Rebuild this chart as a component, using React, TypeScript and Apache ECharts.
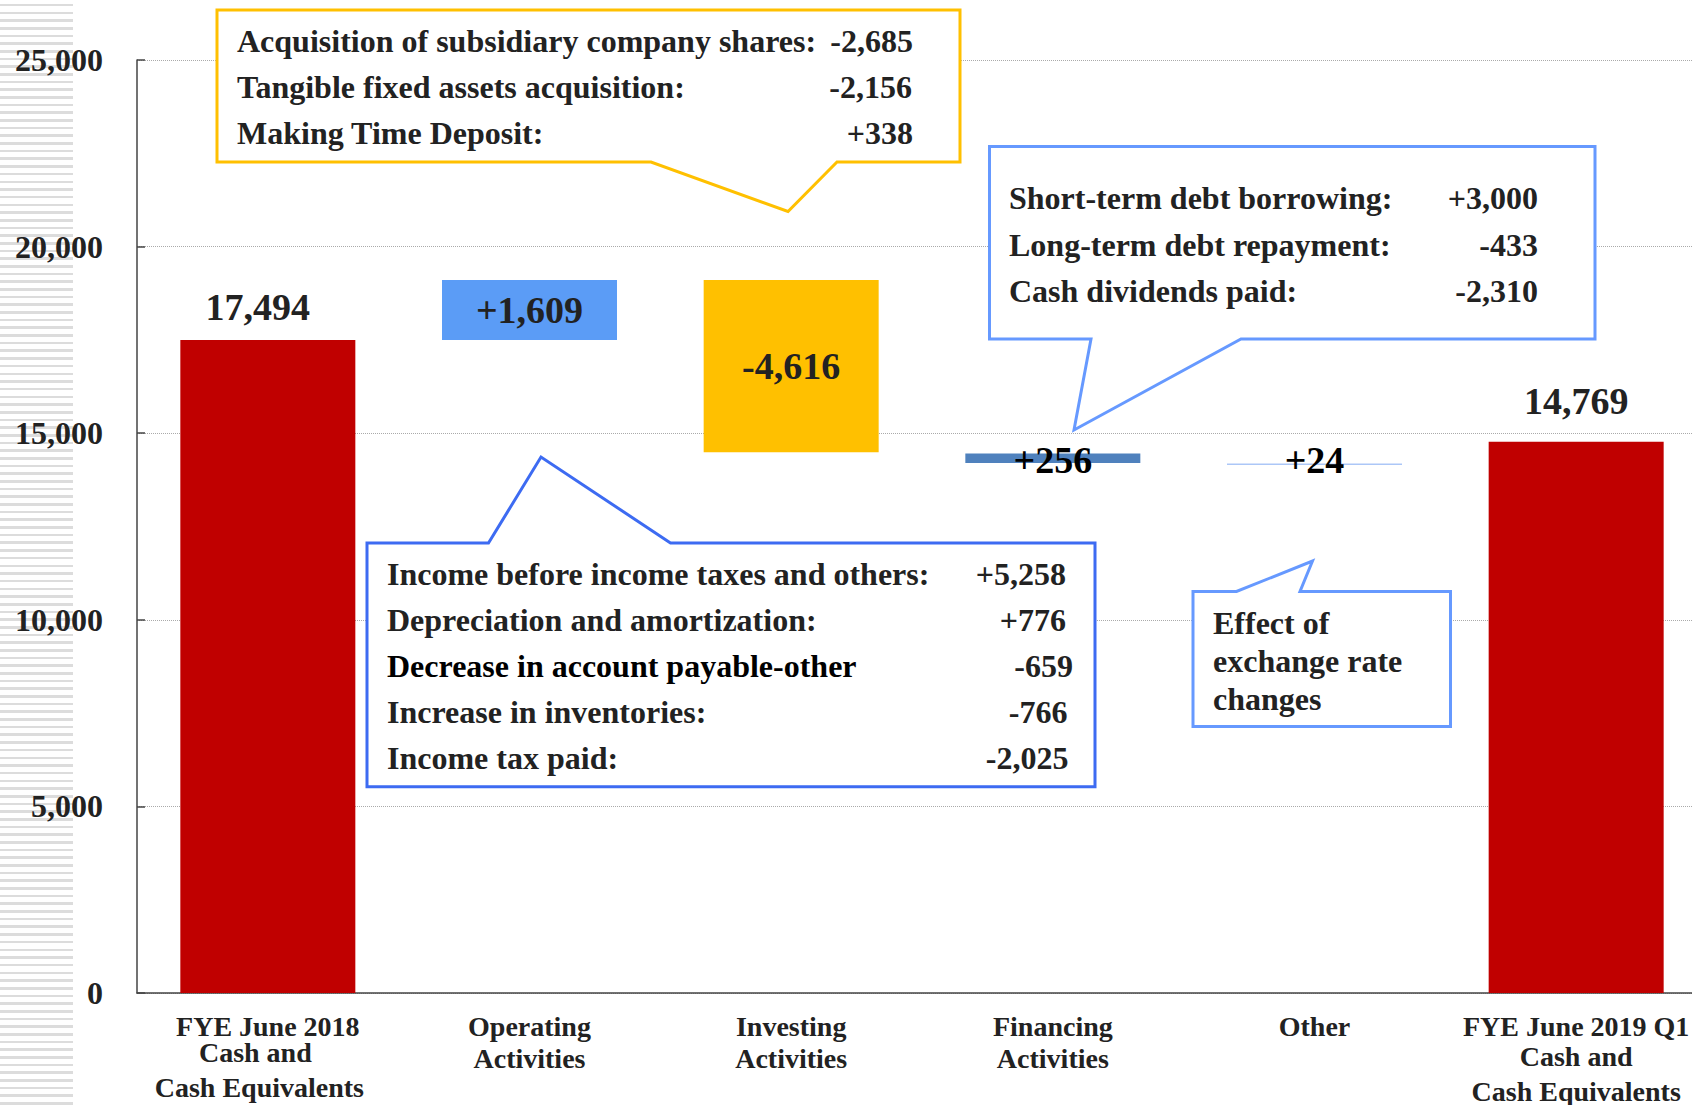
import React, { useEffect, useRef } from "react";
import * as echarts from "echarts";

// ---- Data ----
const categoryLines: string[][] = [
  ["FYE June 2018", "Cash and", "Cash Equivalents"],
  ["Operating", "Activities"],
  ["Investing", "Activities"],
  ["Financing", "Activities"],
  ["Other"],
  ["FYE June 2019 Q1", "Cash and", "Cash Equivalents"],
];
const categories = categoryLines.map((l) => l.join(" "));
// signed change / totals shown on each bar
const deltaValues = [17494, 1609, -4616, 256, 24, 14769];
// invisible base of each floating bar (as drawn in the picture)
const baseValues = [0, 17494, 14487, 14200, 14160, 0];
const barColors = ["#C00000", "#5B9CF6", "#FFC000", "#4F81BD", "#5B8FF0", "#C00000"];
const yTicks = { min: 0, max: 25000, interval: 5000 };

const investingItems = ["Acquisition of subsidiary company shares:", "Tangible fixed assets acquisition:", "Making Time Deposit:"];
const investingValues = ["-2,685", "-2,156", "+338"];
const financingItems = ["Short-term debt borrowing:", "Long-term debt repayment:", "Cash dividends paid:"];
const financingValues = ["+3,000", "-433", "-2,310"];
const operatingItems = [
  "Income before income taxes and others:",
  "Depreciation and amortization:",
  "Decrease in account payable-other",
  "Increase in inventories:",
  "Income tax paid:",
];
const operatingValues = ["+5,258", "+776", "-659", "-766", "-2,025"];
const otherNote = ["Effect of", "exchange rate", "changes"];

const FONT = "'Liberation Serif', 'Times New Roman', serif";

function fmt(n: number) {
  return Math.abs(n).toLocaleString("en-US");
}

function txt(text: string, x: number, y: number, align: string, color = "#222", size = 32) {
  return {
    type: "text",
    x,
    y,
    z: 110,
    silent: true,
    style: {
      text,
      fontSize: size,
      fontWeight: "bold",
      fontFamily: FONT,
      fill: color,
      align,
      textAlign: align,
      verticalAlign: "middle",
      textVerticalAlign: "middle",
    },
  };
}

function callout(points: number[][], stroke: string) {
  return {
    type: "polygon",
    z: 100,
    silent: true,
    shape: { points },
    style: { fill: "#ffffff", stroke, lineWidth: 3, lineJoin: "miter" },
  };
}

export default function App() {
  const ref = useRef<HTMLDivElement>(null);

  useEffect(() => {
    if (!ref.current) return;
    const chart = echarts.init(ref.current, undefined, { renderer: "svg" });

    const labelCfg = [
      { position: "top", distance: 14, offset: [-10, 0] },
      { position: "inside" },
      { position: "inside" },
      { position: "inside", offset: [0, 2], color: "#000" },
      { position: "inside", offset: [0, -4], color: "#000" },
      { position: "top", distance: 22 },
    ];

    const richBase = { fontSize: 28, fontWeight: "bold", fontFamily: FONT, color: "#222" };
    const rich: any = {
      d: { ...richBase, lineHeight: 32 },
      a0: { ...richBase, lineHeight: 32 },
      b0: { ...richBase, lineHeight: 20, padding: [0, 25, 0, 0] },
      c0: { ...richBase, lineHeight: 50, padding: [0, 17, 0, 0] },
      a5: { ...richBase, lineHeight: 32 },
      b5: { ...richBase, lineHeight: 28 },
      c5: { ...richBase, lineHeight: 42 },
    };

    const graphics: any[] = [];
    // investing callout (yellow)
    graphics.push(callout([[217, 10], [960, 10], [960, 162], [837, 162], [788, 211.5], [651, 162], [217, 162]], "#FFC000"));
    const invY = [41, 87, 133];
    const invR = [913, 912, 913];
    investingItems.forEach((t, i) => graphics.push(txt(t, 237, invY[i], "left")));
    investingValues.forEach((t, i) => graphics.push(txt(t, invR[i], invY[i], "right")));
    // financing callout
    graphics.push(callout([[989.5, 146.5], [1595, 146.5], [1595, 339], [1241, 339], [1074, 430], [1091, 339], [989.5, 339]], "#6699FF"));
    const finY = [198, 245, 291];
    financingItems.forEach((t, i) => graphics.push(txt(t, 1009, finY[i], "left")));
    financingValues.forEach((t, i) => graphics.push(txt(t, 1538, finY[i], "right")));
    // operating callout
    graphics.push(callout([[367, 543], [488.5, 543], [541, 457], [670.5, 543], [1095, 543], [1095, 786.7], [367, 786.7]], "#3D6BF2"));
    const opY = [573.5, 620, 666, 712, 758];
    const opR = [1066, 1066, 1073, 1067.5, 1068.5];
    operatingItems.forEach((t, i) => graphics.push(txt(t, 387, opY[i], "left", i === 2 ? "#000" : "#222")));
    operatingValues.forEach((t, i) => graphics.push(txt(t, opR[i], opY[i], "right")));
    // exchange-rate callout
    graphics.push(callout([[1193, 591.5], [1236.5, 591.5], [1312.5, 561], [1300, 591.5], [1450.5, 591.5], [1450.5, 726.5], [1193, 726.5]], "#6699FF"));
    const exY = [622.5, 660.5, 698.5];
    otherNote.forEach((t, i) => graphics.push(txt(t, 1213, exY[i], "left")));

    chart.setOption({
      animation: false,
      grid: { left: 137, top: 60, width: 1570, height: 935 },
      xAxis: {
        type: "category",
        data: categories,
        axisLine: { show: true, lineStyle: { color: "#444", width: 1.5 } },
        axisTick: { show: false },
        axisLabel: {
          interval: 0,
          margin: 17,
          rich,
          formatter: (_v: string, idx: number) => {
            const lines = categoryLines[idx];
            if (idx === 0) return `{a0|${lines[0]}}\n{b0|${lines[1]}}\n{c0|${lines[2]}}`;
            if (idx === 5) return `{a5|${lines[0]}}\n{b5|${lines[1]}}\n{c5|${lines[2]}}`;
            return lines.map((l) => `{d|${l}}`).join("\n");
          },
        },
      },
      yAxis: {
        type: "value",
        min: yTicks.min,
        max: yTicks.max,
        interval: yTicks.interval,
        axisLine: { show: true, lineStyle: { color: "#444", width: 1.5 } },
        axisTick: { show: true, inside: true, length: 8, lineStyle: { color: "#444", width: 1.5 } },
        splitLine: { show: true, lineStyle: { color: "#aaa", type: "dotted", width: 1 } },
        axisLabel: {
          margin: 34,
          fontSize: 32,
          fontWeight: "bold",
          fontFamily: FONT,
          color: "#222",
          formatter: (v: number) => v.toLocaleString("en-US"),
        },
      },
      series: [
        {
          type: "bar",
          stack: "w",
          barWidth: 175,
          silent: true,
          itemStyle: { color: "transparent" },
          data: baseValues,
        },
        {
          type: "bar",
          stack: "w",
          barWidth: 175,
          data: deltaValues.map((v, i) => ({
            value: Math.abs(v),
            itemStyle: { color: barColors[i] },
            label: {
              show: true,
              fontSize: 38,
              fontWeight: "bold",
              fontFamily: FONT,
              color: "#222",
              formatter: () => (i === 0 || i === 5 ? fmt(v) : (v >= 0 ? "+" : "-") + fmt(v)),
              ...labelCfg[i],
            },
          })),
        },
      ],
      graphic: { elements: graphics },
    });

    return () => chart.dispose();
  }, []);

  return (
    <div style={{ position: "fixed", left: 0, top: 0, width: 1692, height: 1105, background: "#fff", overflow: "hidden" }}>
      <div
        style={{
          position: "absolute",
          left: 0,
          top: 0,
          width: 73,
          height: 1105,
          backgroundImage:
            "repeating-linear-gradient(180deg, #ffffff 0px, #ffffff 3.9px, #dcdcdc 3.9px, #dcdcdc 6.5px, #ffffff 6.5px, #ffffff 7.68px)",
        }}
      />
      <div ref={ref} style={{ position: "absolute", left: 0, top: 0, width: 1720, height: 1105 }} />
    </div>
  );
}
